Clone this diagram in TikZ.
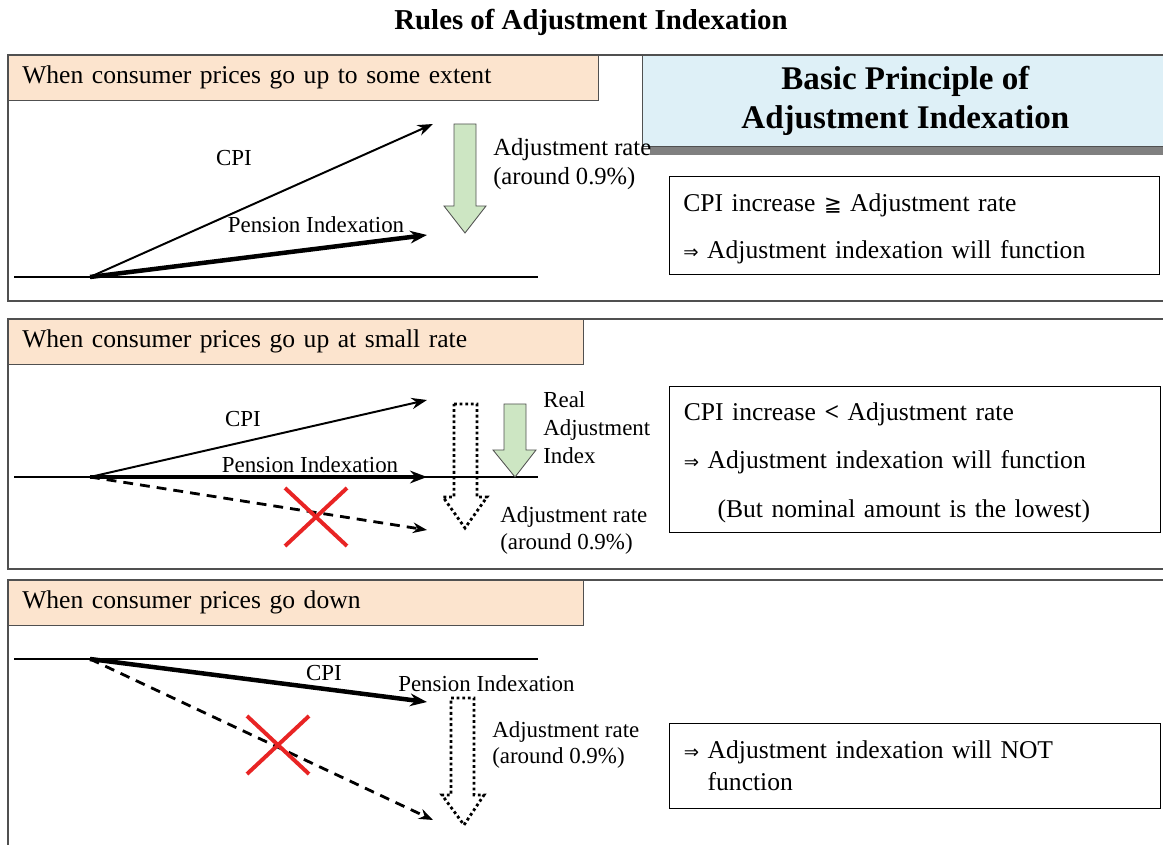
\documentclass[tikz,border=0pt]{standalone}
\usepackage{fontspec}
\setmainfont{Liberation Serif}
\newfontfamily\symfont{DejaVu Sans}
\usetikzlibrary{arrows.meta, positioning, shadows}
\definecolor{hPeach}{RGB}{252,228,206}
\definecolor{bpBlue}{RGB}{222,240,247}
\definecolor{adjGreen}{RGB}{205,230,195}
\definecolor{shadowGray}{RGB}{128,128,128}
\definecolor{crossRed}{RGB}{232,36,36}
\definecolor{frameGray}{RGB}{80,80,80}

\begin{document}
\begin{tikzpicture}[x=0.025cm, y=-0.025cm,
  header/.style={draw=frameGray, fill=hPeach, anchor=north west, inner xsep=0.35cm,
                 minimum height=1.125cm, text width=#1, align=left,
                 font=\fontsize{18.2}{22}\selectfont},
  panel/.style={draw=frameGray, line width=0.8pt},
  rulebox/.style={draw, anchor=north west, inner xsep=0.35cm, text width=11.55cm,
                  align=left},
  lbl/.style={inner sep=0pt, font=\fontsize{16.3}{19.5}\selectfont, align=left},
  axisline/.style={line width=0.9pt},
  cpiline/.style={-{Stealth[length=11pt, width=8pt]}, line width=1.4pt},
  penline/.style={-{Stealth[length=12pt, width=9pt]}, line width=3.2pt},
  cutline/.style={-{Stealth[length=10pt, width=7.5pt]}, line width=2pt,
                  dash pattern=on 7pt off 5pt},
  redX/.style={draw=crossRed, line width=2.8pt},
  greenarr/.style={draw=frameGray, fill=adjGreen, line width=0.6pt},
  dotarr/.style={draw, line width=2pt, dash pattern=on 2pt off 2pt},
]
\useasboundingbox (0,0) rectangle (1163,845);

\node[font=\fontsize{20.5}{24}\selectfont\bfseries] (title) at (591,22)
  {Rules of Adjustment Indexation};

% panels
\draw[panel] (8,55) rectangle (1180,301);
\draw[panel] (8,319) rectangle (1180,569);
\draw[panel] (8,580) rectangle (1180,880);

\node[header=14.05cm] (head1) at (8,55) {When consumer prices go up to some extent};
\node[header=13.675cm] (head2) at (8,319) {When consumer prices go up at small rate};
\node[header=13.675cm] (head3) at (8,580) {When consumer prices go down};

\node[draw=frameGray, fill=bpBlue, anchor=north west, minimum width=13.15cm,
      minimum height=2.275cm, align=center,
      drop shadow={shadow xshift=0.2cm, shadow yshift=-0.225cm,
                   fill=shadowGray, opacity=1},
      font=\fontsize{23.5}{27.7}\selectfont\bfseries] (basic) at (642,55)
  {Basic Principle of\\Adjustment Indexation};

% up to some extent
\coordinate (o1) at (90,277);
\coordinate (cpi1) at (433,124);
\coordinate (pen1) at (427,235);
\draw[axisline] (14,277) -- (538,277);
\draw[cpiline] (o1) -- (cpi1);
\draw[penline] (o1) -- (pen1);
\node[lbl] (cpiL1) at (234,158) {CPI};
\node[lbl] (penL1) at (316,225) {Pension Indexation};
\draw[greenarr] (454,124) -- (476,124) -- (476,206) -- (486,206) -- (465,233)
  -- (444,206) -- (454,206) -- cycle;
\node[lbl, anchor=west, font=\fontsize{17.5}{20.6}\selectfont] (adjL1) at (493,164)
  {Adjustment rate\\(around 0.9\%)};
\node[rulebox, minimum width=12.225cm, minimum height=2.45cm,
      font=\fontsize{18.2}{33.4}\selectfont] (rule1) at (669,176)
  {\rule{0pt}{17pt}CPI increase {\symfont\fontsize{15}{18}\selectfont ≧} Adjustment rate\\
   {\symfont\fontsize{13}{18}\selectfont ⇒} Adjustment indexation will function};

% small rate
\coordinate (o2) at (90,477);
\coordinate (cpi2) at (427,400);
\coordinate (pen2) at (427,477);
\coordinate (cut2) at (427,530);
\draw[axisline] (14,477) -- (538,477);
\draw[cpiline] (o2) -- (cpi2);
\draw[penline] (o2) -- (pen2);
\draw[cutline] (o2) -- (cut2);
\node[lbl] (cpiL2) at (243,419) {CPI};
\node[lbl] (penL2) at (310,465) {Pension Indexation};
\coordinate (x2) at (316,517);
\draw[redX] (x2) ++(-31,-29) -- ++(62,58) (x2) ++(31,-29) -- ++(-62,58);
\draw[dotarr] (454,404) -- (477,404) -- (477,497) -- (487,497) -- (465,528)
  -- (443,497) -- (454,497) -- cycle;
\draw[greenarr] (504,404) -- (526,404) -- (526,450) -- (536,450) -- (515,477)
  -- (493,450) -- (504,450) -- cycle;
\node[lbl, anchor=west, font=\fontsize{16.3}{19.9}\selectfont] (realL) at (543,428)
  {Real\\Adjustment\\Index};
\node[lbl, anchor=west, font=\fontsize{16.3}{19.2}\selectfont] (adjL2) at (500,530)
  {Adjustment rate\\(around 0.9\%)};
\node[rulebox, minimum width=12.275cm, minimum height=3.65cm,
      font=\fontsize{18.2}{34.5}\selectfont] (rule2) at (669,386)
  {\rule{0pt}{17pt}CPI increase \textbf{<} Adjustment rate\\
   {\symfont\fontsize{13}{18}\selectfont ⇒} Adjustment indexation will function\\
   \hspace*{24pt}(But nominal amount is the lowest)};

% go down
\coordinate (o3) at (90,659);
\coordinate (cpi3) at (427,702);
\coordinate (cut3) at (433,820);
\draw[axisline] (14,659) -- (538,659);
\draw[penline] (o3) -- (cpi3);
\draw[cutline] (o3) -- (cut3);
\node[lbl] (cpiL3) at (324,673) {CPI};
\node[lbl, anchor=west] (penL3) at (398,684) {Pension Indexation};
\coordinate (x3) at (278,745);
\draw[redX] (x3) ++(-31,-29) -- ++(62,58) (x3) ++(31,-29) -- ++(-62,58);
\draw[dotarr] (451,698) -- (474,698) -- (474,795) -- (484,795) -- (464,825)
  -- (442,795) -- (451,795) -- cycle;
\node[lbl, anchor=west, font=\fontsize{16.3}{18}\selectfont] (adjL3) at (492,745)
  {Adjustment rate\\(around 0.9\%)};
\node[rulebox, minimum width=12.275cm, minimum height=2.125cm,
      font=\fontsize{18.2}{22.8}\selectfont] (rule3) at (669,723)
  {{\symfont\fontsize{13}{18}\selectfont ⇒} Adjustment indexation will NOT\\
   \hphantom{{\symfont\fontsize{13}{18}\selectfont ⇒} }function};
\end{tikzpicture}
\end{document}
